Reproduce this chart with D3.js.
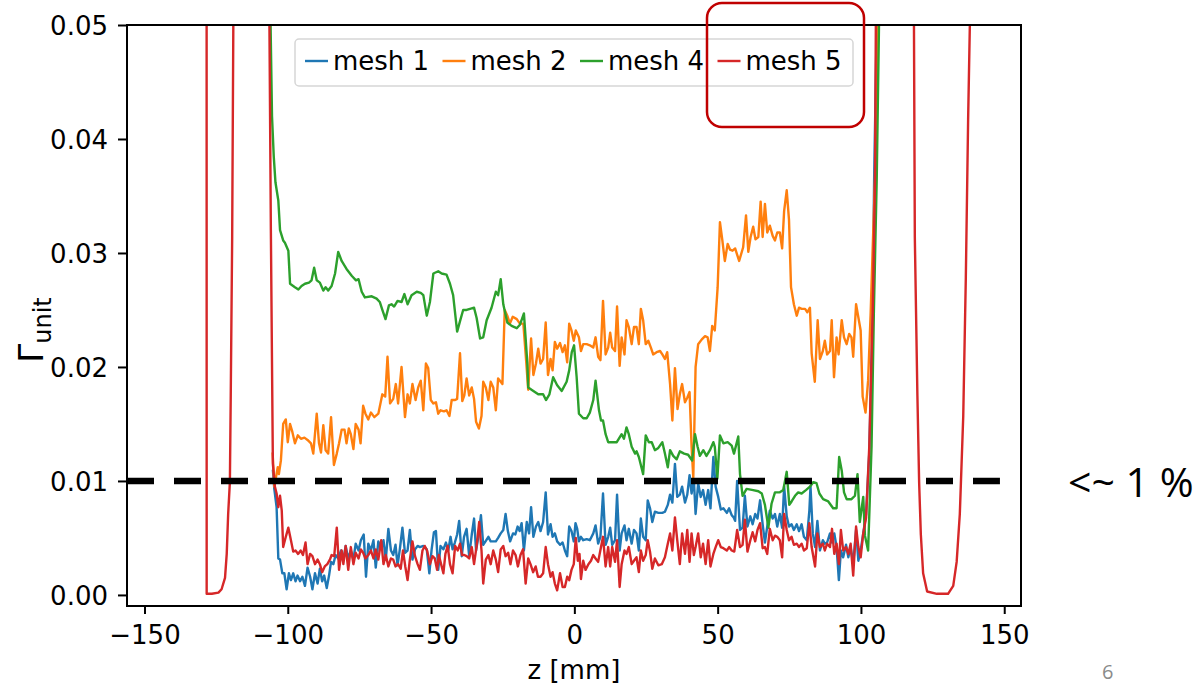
<!DOCTYPE html>
<html>
<head>
<meta charset="utf-8">
<script src="https://cdnjs.cloudflare.com/ajax/libs/d3/7.8.5/d3.min.js"></script>
<style>
  body { margin: 0; background: #fff; }
  svg { display: block; }
</style>
</head>
<body>
<script>
// Γ_unit along the cavity axis, z in mm, one [z, Γ] pair per sample.
const mesh1 = [
  [-105.2, 0.0110], [-104.7, 0.0093], [-103.9, 0.0077], [-103.3, 0.0032], [-102.7, 0.0031], [-101.9, 0.0019],
  [-101.2, 0.0019], [-100.4, 0.0005], [-99.6, 0.0019], [-98.9, 0.0013], [-98.1, 0.0019], [-97.3, 0.0012],
  [-96.6, 0.0017], [-95.7, 0.0012], [-94.9, 0.0016], [-94.0, 0.0008], [-93.1, 0.0024], [-92.2, 0.0016],
  [-91.4, 0.0005], [-90.5, 0.0019], [-89.6, 0.0010], [-88.8, 0.0023], [-88.0, 0.0012], [-87.3, 0.0017],
  [-86.4, 0.0006], [-85.6, 0.0017], [-84.9, 0.0029], [-84.1, 0.0027], [-83.3, 0.0035], [-82.4, 0.0032],
  [-81.4, 0.0039], [-80.6, 0.0031], [-79.8, 0.0043], [-78.9, 0.0032], [-78.0, 0.0039], [-77.1, 0.0031],
  [-76.3, 0.0045], [-75.3, 0.0039], [-74.5, 0.0048], [-73.5, 0.0053], [-72.7, 0.0016], [-71.9, 0.0045],
  [-71.0, 0.0039], [-70.1, 0.0048], [-69.3, 0.0024], [-68.4, 0.0047], [-67.4, 0.0040], [-66.6, 0.0048],
  [-65.8, 0.0031], [-64.9, 0.0058], [-64.0, 0.0039], [-63.2, 0.0035], [-62.4, 0.0044], [-61.7, 0.0026],
  [-60.9, 0.0040], [-60.0, 0.0059], [-59.1, 0.0037], [-58.2, 0.0039], [-57.4, 0.0057], [-56.5, 0.0031],
  [-55.6, 0.0040], [-54.7, 0.0043], [-53.9, 0.0042], [-52.7, 0.0043], [-51.5, 0.0040], [-50.6, 0.0019],
  [-49.8, 0.0040], [-49.0, 0.0055], [-48.3, 0.0056], [-47.5, 0.0022], [-46.7, 0.0043], [-45.7, 0.0040],
  [-44.8, 0.0046], [-44.0, 0.0039], [-43.2, 0.0051], [-42.5, 0.0040], [-41.7, 0.0046], [-40.9, 0.0053],
  [-40.2, 0.0065], [-39.3, 0.0034], [-38.5, 0.0051], [-37.6, 0.0058], [-36.7, 0.0034], [-35.8, 0.0053],
  [-35.0, 0.0067], [-34.3, 0.0039], [-33.5, 0.0051], [-32.6, 0.0070], [-31.8, 0.0044], [-31.0, 0.0047],
  [-30.0, 0.0051], [-29.2, 0.0047], [-28.3, 0.0047], [-27.4, 0.0047], [-26.6, 0.0050], [-25.7, 0.0054],
  [-24.8, 0.0057], [-24.0, 0.0071], [-23.2, 0.0056], [-22.4, 0.0047], [-21.4, 0.0054], [-20.6, 0.0053],
  [-19.8, 0.0060], [-19.1, 0.0056], [-18.4, 0.0063], [-17.6, 0.0039], [-16.6, 0.0064], [-15.8, 0.0054],
  [-15.1, 0.0077], [-14.3, 0.0051], [-13.4, 0.0060], [-12.6, 0.0064], [-11.8, 0.0056], [-10.9, 0.0064],
  [-10.0, 0.0090], [-9.2, 0.0053], [-8.3, 0.0062], [-7.6, 0.0051], [-6.8, 0.0054], [-6.0, 0.0047],
  [-5.0, 0.0044], [-4.1, 0.0046], [-3.3, 0.0039], [-2.5, 0.0034], [-1.8, 0.0060], [-1.0, 0.0056],
  [-0.2, 0.0047], [0.4, 0.0063], [1.0, 0.0058], [1.6, 0.0047], [2.3, 0.0051], [3.1, 0.0048],
  [4.3, 0.0049], [5.4, 0.0048], [6.6, 0.0054], [7.4, 0.0061], [8.3, 0.0045], [9.1, 0.0051],
  [10.0, 0.0089], [10.9, 0.0044], [11.8, 0.0051], [12.5, 0.0059], [13.2, 0.0044], [14.2, 0.0048],
  [14.9, 0.0088], [15.8, 0.0039], [16.5, 0.0054], [17.5, 0.0061], [18.2, 0.0048], [19.0, 0.0058],
  [20.0, 0.0045], [20.8, 0.0057], [21.7, 0.0054], [22.5, 0.0039], [23.2, 0.0067], [24.0, 0.0051],
  [24.9, 0.0048], [25.6, 0.0083], [26.4, 0.0076], [27.2, 0.0064], [28.1, 0.0073], [29.3, 0.0072],
  [30.7, 0.0072], [31.6, 0.0073], [32.6, 0.0079], [33.4, 0.0088], [34.2, 0.0081], [35.1, 0.0115],
  [35.9, 0.0086], [36.8, 0.0088], [37.6, 0.0095], [38.6, 0.0081], [39.4, 0.0088], [40.2, 0.0105],
  [40.9, 0.0089], [41.7, 0.0101], [42.3, 0.0071], [43.2, 0.0098], [44.1, 0.0086], [44.9, 0.0092],
  [45.8, 0.0079], [46.7, 0.0092], [47.5, 0.0076], [48.5, 0.0121], [49.3, 0.0095], [50.2, 0.0086],
  [51.1, 0.0075], [52.0, 0.0076], [53.2, 0.0072], [54.0, 0.0076], [54.9, 0.0070], [55.6, 0.0068],
  [56.1, 0.0065], [56.8, 0.0100], [57.8, 0.0057], [58.7, 0.0059], [59.5, 0.0087], [60.4, 0.0060],
  [61.4, 0.0069], [62.2, 0.0062], [63.1, 0.0071], [63.9, 0.0067], [64.8, 0.0083], [65.7, 0.0062],
  [66.5, 0.0046], [67.3, 0.0060], [68.2, 0.0074], [69.2, 0.0067], [70.0, 0.0071], [70.8, 0.0060],
  [71.7, 0.0071], [72.5, 0.0059], [73.2, 0.0095], [74.1, 0.0069], [74.9, 0.0060], [75.8, 0.0062],
  [76.6, 0.0057], [77.6, 0.0062], [78.4, 0.0056], [79.3, 0.0062], [80.1, 0.0051], [81.1, 0.0048],
  [82.0, 0.0074], [82.4, 0.0095], [83.2, 0.0054], [84.0, 0.0042], [84.8, 0.0065], [85.7, 0.0039],
  [86.7, 0.0048], [87.4, 0.0045], [88.2, 0.0046], [89.2, 0.0054], [89.9, 0.0046], [90.7, 0.0054],
  [91.5, 0.0042], [92.3, 0.0013], [93.0, 0.0039], [93.8, 0.0033], [94.8, 0.0044], [95.6, 0.0033],
  [96.4, 0.0042], [97.3, 0.0027], [98.3, 0.0057], [99.1, 0.0030], [99.9, 0.0039], [100.8, 0.0054],
  [101.8, 0.0071], [102.9, 0.0124], [104.1, 0.0248], [104.6, 0.0364], [105.5, 0.0500], [106.5, 0.0800]
];

const mesh2 = [
  [-105.3, 0.0125], [-104.7, 0.0095], [-103.5, 0.0112], [-103.1, 0.0106], [-102.4, 0.0118], [-101.6, 0.0150],
  [-100.7, 0.0154], [-100.0, 0.0134], [-99.2, 0.0150], [-98.4, 0.0143], [-97.5, 0.0133], [-96.5, 0.0140],
  [-95.4, 0.0137], [-94.2, 0.0138], [-93.1, 0.0136], [-91.9, 0.0133], [-91.1, 0.0124], [-89.9, 0.0159],
  [-89.1, 0.0133], [-88.4, 0.0125], [-87.6, 0.0149], [-86.8, 0.0127], [-85.9, 0.0124], [-84.9, 0.0156],
  [-83.9, 0.0114], [-82.9, 0.0124], [-82.1, 0.0133], [-81.2, 0.0145], [-80.2, 0.0145], [-79.5, 0.0133],
  [-78.7, 0.0146], [-78.0, 0.0141], [-77.1, 0.0128], [-76.3, 0.0150], [-75.3, 0.0145], [-74.6, 0.0133],
  [-73.7, 0.0166], [-72.9, 0.0159], [-71.9, 0.0154], [-71.0, 0.0160], [-69.8, 0.0156], [-68.4, 0.0159],
  [-67.0, 0.0176], [-66.0, 0.0174], [-65.2, 0.0209], [-64.3, 0.0168], [-63.2, 0.0172], [-62.3, 0.0185],
  [-61.5, 0.0168], [-60.3, 0.0200], [-59.1, 0.0156], [-58.2, 0.0176], [-57.4, 0.0168], [-56.5, 0.0185],
  [-55.4, 0.0171], [-54.5, 0.0182], [-53.6, 0.0188], [-52.7, 0.0162], [-51.8, 0.0203], [-51.0, 0.0199],
  [-50.1, 0.0171], [-49.2, 0.0168], [-48.3, 0.0169], [-47.5, 0.0159], [-46.7, 0.0162], [-45.5, 0.0161],
  [-44.6, 0.0162], [-43.6, 0.0157], [-42.8, 0.0171], [-41.6, 0.0171], [-40.9, 0.0172], [-39.9, 0.0212],
  [-39.1, 0.0170], [-38.4, 0.0175], [-37.6, 0.0190], [-36.7, 0.0175], [-35.8, 0.0182], [-35.0, 0.0172],
  [-34.3, 0.0152], [-33.3, 0.0146], [-32.4, 0.0157], [-31.8, 0.0187], [-30.9, 0.0182], [-30.0, 0.0171],
  [-29.2, 0.0187], [-28.3, 0.0182], [-27.4, 0.0162], [-26.6, 0.0190], [-25.7, 0.0187], [-25.1, 0.0185],
  [-24.3, 0.0250], [-23.4, 0.0245], [-22.5, 0.0238], [-21.5, 0.0244], [-20.1, 0.0242], [-19.0, 0.0238],
  [-17.8, 0.0238], [-16.9, 0.0208], [-16.1, 0.0180], [-15.1, 0.0225], [-14.3, 0.0193], [-13.4, 0.0203],
  [-12.6, 0.0216], [-11.8, 0.0203], [-10.9, 0.0207], [-10.0, 0.0239], [-9.2, 0.0193], [-8.3, 0.0207],
  [-7.6, 0.0197], [-6.8, 0.0222], [-6.0, 0.0216], [-5.0, 0.0221], [-4.1, 0.0213], [-3.3, 0.0219],
  [-2.5, 0.0204], [-1.8, 0.0238], [-1.0, 0.0232], [-0.2, 0.0223], [0.5, 0.0232], [1.6, 0.0226],
  [2.3, 0.0214], [3.1, 0.0220], [4.3, 0.0220], [5.4, 0.0219], [6.6, 0.0217], [7.4, 0.0226],
  [8.3, 0.0209], [9.1, 0.0206], [10.0, 0.0258], [10.9, 0.0211], [11.8, 0.0217], [12.5, 0.0230],
  [13.2, 0.0217], [14.2, 0.0214], [14.9, 0.0253], [15.8, 0.0201], [16.5, 0.0226], [17.5, 0.0211],
  [18.2, 0.0241], [19.0, 0.0235], [20.0, 0.0220], [20.8, 0.0235], [21.7, 0.0235], [22.5, 0.0220],
  [23.2, 0.0251], [24.0, 0.0241], [24.9, 0.0220], [25.8, 0.0223], [26.7, 0.0217], [27.5, 0.0211],
  [28.7, 0.0213], [29.9, 0.0214], [30.7, 0.0211], [31.6, 0.0207], [32.4, 0.0213], [33.4, 0.0185],
  [34.2, 0.0153], [35.1, 0.0199], [36.0, 0.0163], [36.8, 0.0176], [37.6, 0.0185], [38.6, 0.0169],
  [39.4, 0.0173], [40.2, 0.0178], [40.9, 0.0130], [41.5, 0.0103], [42.3, 0.0200], [43.2, 0.0220],
  [44.4, 0.0224], [45.6, 0.0227], [46.5, 0.0226], [47.3, 0.0214], [48.1, 0.0236], [49.0, 0.0232],
  [50.0, 0.0270], [50.8, 0.0327], [51.6, 0.0312], [52.5, 0.0293], [53.5, 0.0308], [54.3, 0.0303],
  [55.2, 0.0302], [56.1, 0.0304], [57.5, 0.0293], [58.9, 0.0305], [59.9, 0.0333], [60.7, 0.0301],
  [61.5, 0.0314], [62.4, 0.0323], [63.2, 0.0312], [64.2, 0.0314], [65.0, 0.0345], [65.7, 0.0314],
  [66.5, 0.0343], [67.3, 0.0318], [68.2, 0.0324], [69.2, 0.0315], [70.0, 0.0311], [70.8, 0.0318],
  [71.7, 0.0318], [72.5, 0.0304], [73.2, 0.0337], [74.1, 0.0355], [74.9, 0.0329], [75.6, 0.0270],
  [76.6, 0.0255], [77.6, 0.0245], [78.4, 0.0252], [79.3, 0.0251], [80.5, 0.0251], [81.3, 0.0248],
  [82.2, 0.0252], [82.8, 0.0212], [83.9, 0.0187], [84.9, 0.0241], [85.7, 0.0207], [86.7, 0.0214],
  [87.4, 0.0223], [88.2, 0.0211], [89.2, 0.0214], [89.8, 0.0241], [90.6, 0.0191], [91.5, 0.0226],
  [92.2, 0.0211], [93.3, 0.0241], [94.1, 0.0226], [95.0, 0.0220], [95.9, 0.0229], [96.7, 0.0226],
  [97.3, 0.0209], [98.3, 0.0255], [99.9, 0.0232], [100.6, 0.0174], [101.6, 0.0160], [102.5, 0.0188],
  [103.4, 0.0248], [104.3, 0.0320], [104.9, 0.0364], [105.9, 0.0500], [107.0, 0.0800]
];

const mesh4 = [
  [-106.6, 0.0800], [-106.0, 0.0500], [-105.5, 0.0420], [-104.9, 0.0385], [-104.3, 0.0362], [-103.3, 0.0346],
  [-102.7, 0.0320], [-101.6, 0.0311], [-101.0, 0.0309], [-99.8, 0.0302], [-99.2, 0.0273], [-97.5, 0.0270],
  [-96.3, 0.0268], [-95.2, 0.0271], [-94.0, 0.0273], [-92.6, 0.0274], [-91.7, 0.0276], [-90.8, 0.0287],
  [-89.9, 0.0276], [-88.8, 0.0274], [-87.6, 0.0267], [-86.8, 0.0270], [-85.9, 0.0267], [-84.7, 0.0271],
  [-83.5, 0.0282], [-82.4, 0.0301], [-81.2, 0.0293], [-79.5, 0.0286], [-77.7, 0.0280], [-76.2, 0.0276],
  [-75.3, 0.0277], [-74.2, 0.0266], [-73.1, 0.0261], [-70.7, 0.0262], [-69.0, 0.0260], [-67.9, 0.0257],
  [-67.0, 0.0250], [-65.9, 0.0242], [-64.7, 0.0254], [-63.8, 0.0255], [-62.9, 0.0253], [-61.7, 0.0258],
  [-60.3, 0.0257], [-59.3, 0.0264], [-58.2, 0.0255], [-56.8, 0.0263], [-55.0, 0.0266], [-53.6, 0.0265],
  [-52.7, 0.0263], [-51.5, 0.0245], [-50.4, 0.0257], [-49.2, 0.0282], [-47.5, 0.0284], [-46.3, 0.0282],
  [-44.6, 0.0281], [-43.4, 0.0273], [-42.3, 0.0263], [-40.9, 0.0231], [-39.7, 0.0242], [-38.8, 0.0250],
  [-37.6, 0.0250], [-36.4, 0.0251], [-35.0, 0.0252], [-34.1, 0.0243], [-32.9, 0.0225], [-31.8, 0.0226],
  [-30.6, 0.0241], [-28.9, 0.0252], [-27.4, 0.0266], [-26.6, 0.0263], [-25.7, 0.0277], [-24.8, 0.0255],
  [-23.4, 0.0239], [-21.9, 0.0236], [-20.1, 0.0234], [-19.0, 0.0237], [-17.6, 0.0247], [-16.4, 0.0203],
  [-16.1, 0.0182], [-14.3, 0.0179], [-12.6, 0.0176], [-10.9, 0.0176], [-9.9, 0.0171], [-8.7, 0.0176],
  [-7.4, 0.0191], [-6.0, 0.0184], [-4.4, 0.0179], [-2.7, 0.0187], [-1.8, 0.0197], [-0.9, 0.0213],
  [-0.1, 0.0219], [0.8, 0.0191], [1.6, 0.0159], [3.1, 0.0155], [4.3, 0.0155], [5.4, 0.0160],
  [6.6, 0.0171], [7.4, 0.0188], [8.6, 0.0162], [9.3, 0.0153], [10.0, 0.0153], [10.9, 0.0141],
  [11.8, 0.0134], [13.6, 0.0134], [14.8, 0.0134], [16.5, 0.0141], [17.3, 0.0137], [18.2, 0.0147],
  [19.0, 0.0141], [20.0, 0.0130], [21.2, 0.0124], [21.7, 0.0126], [22.5, 0.0121], [24.0, 0.0106],
  [24.9, 0.0140], [26.0, 0.0134], [27.0, 0.0134], [28.1, 0.0127], [29.3, 0.0129], [30.7, 0.0134],
  [31.6, 0.0124], [32.6, 0.0112], [33.4, 0.0127], [34.5, 0.0122], [35.7, 0.0119], [36.8, 0.0126],
  [38.3, 0.0124], [39.7, 0.0123], [41.1, 0.0118], [42.1, 0.0141], [43.0, 0.0130], [43.8, 0.0122],
  [45.0, 0.0127], [46.1, 0.0122], [47.3, 0.0127], [48.5, 0.0134], [49.0, 0.0130], [49.9, 0.0102],
  [50.8, 0.0140], [52.0, 0.0133], [53.5, 0.0134], [54.9, 0.0131], [55.7, 0.0124], [57.2, 0.0139],
  [57.8, 0.0106], [58.7, 0.0087], [60.1, 0.0093], [62.4, 0.0092], [64.2, 0.0091], [65.4, 0.0089],
  [66.5, 0.0079], [67.7, 0.0059], [68.8, 0.0080], [70.0, 0.0090], [71.7, 0.0090], [72.9, 0.0092],
  [74.1, 0.0108], [75.0, 0.0079], [75.8, 0.0082], [77.0, 0.0087], [78.1, 0.0090], [79.3, 0.0089],
  [80.8, 0.0092], [82.2, 0.0095], [83.4, 0.0099], [84.5, 0.0098], [85.5, 0.0089], [86.8, 0.0084],
  [88.6, 0.0082], [90.3, 0.0076], [91.5, 0.0076], [92.4, 0.0121], [93.3, 0.0109], [94.1, 0.0090],
  [95.0, 0.0084], [96.7, 0.0084], [97.9, 0.0087], [98.8, 0.0106], [99.6, 0.0064], [100.8, 0.0086],
  [101.4, 0.0052], [102.5, 0.0039], [103.7, 0.0130], [104.5, 0.0247], [105.5, 0.0364], [106.3, 0.0500],
  [107.2, 0.0800]
];

const mesh5 = [
  [-128.6, 0.9000], [-128.3, 0.0001], [-126.5, 0.0001], [-124.2, 0.0002], [-123.1, 0.0005], [-121.9, 0.0015],
  [-121.3, 0.0036], [-120.8, 0.0071], [-120.2, 0.0099], [-119.9, 0.0175], [-119.4, 0.0314], [-119.0, 0.0500],
  [-118.5, 0.0900], [-112.5, 0.5000], [-106.9, 0.0900], [-106.4, 0.0500], [-105.9, 0.0320], [-105.2, 0.0115],
  [-104.5, 0.0095], [-103.9, 0.0089], [-103.3, 0.0077], [-102.7, 0.0087], [-102.1, 0.0074], [-101.6, 0.0042],
  [-100.8, 0.0050], [-99.8, 0.0059], [-98.9, 0.0048], [-98.1, 0.0038], [-97.3, 0.0039], [-96.4, 0.0036],
  [-95.5, 0.0039], [-94.7, 0.0035], [-93.8, 0.0046], [-93.1, 0.0027], [-92.2, 0.0036], [-91.4, 0.0034],
  [-90.5, 0.0027], [-89.6, 0.0031], [-88.8, 0.0027], [-88.0, 0.0020], [-87.1, 0.0025], [-86.2, 0.0027],
  [-85.3, 0.0031], [-84.7, 0.0035], [-83.8, 0.0034], [-82.9, 0.0059], [-82.1, 0.0022], [-81.2, 0.0039],
  [-80.6, 0.0027], [-79.8, 0.0043], [-78.9, 0.0022], [-78.0, 0.0042], [-77.1, 0.0027], [-76.3, 0.0037],
  [-75.3, 0.0032], [-74.5, 0.0040], [-73.7, 0.0037], [-72.9, 0.0032], [-71.9, 0.0035], [-71.0, 0.0039],
  [-70.1, 0.0032], [-69.3, 0.0040], [-68.4, 0.0031], [-67.4, 0.0048], [-66.6, 0.0027], [-65.8, 0.0035],
  [-64.9, 0.0025], [-64.0, 0.0032], [-63.2, 0.0031], [-62.4, 0.0025], [-61.5, 0.0027], [-60.6, 0.0023],
  [-59.8, 0.0039], [-59.0, 0.0025], [-58.2, 0.0013], [-57.4, 0.0031], [-56.5, 0.0047], [-55.6, 0.0034],
  [-54.7, 0.0027], [-53.9, 0.0022], [-53.0, 0.0039], [-52.2, 0.0043], [-51.4, 0.0039], [-50.4, 0.0027],
  [-49.5, 0.0034], [-48.7, 0.0032], [-47.9, 0.0022], [-47.3, 0.0035], [-46.5, 0.0027], [-45.7, 0.0019],
  [-45.0, 0.0036], [-44.2, 0.0043], [-43.4, 0.0027], [-42.5, 0.0019], [-41.6, 0.0043], [-40.7, 0.0039],
  [-39.9, 0.0045], [-39.2, 0.0035], [-38.4, 0.0035], [-37.6, 0.0034], [-36.7, 0.0032], [-35.8, 0.0042],
  [-35.0, 0.0027], [-34.1, 0.0043], [-33.2, 0.0064], [-32.4, 0.0039], [-31.8, 0.0010], [-30.9, 0.0031],
  [-30.0, 0.0035], [-29.2, 0.0027], [-28.3, 0.0039], [-27.4, 0.0031], [-26.6, 0.0020], [-25.7, 0.0040],
  [-24.8, 0.0043], [-24.0, 0.0034], [-23.1, 0.0037], [-22.3, 0.0027], [-21.4, 0.0039], [-20.5, 0.0035],
  [-19.7, 0.0025], [-18.8, 0.0035], [-17.9, 0.0040], [-17.0, 0.0010], [-16.1, 0.0032], [-15.3, 0.0027],
  [-14.4, 0.0020], [-13.5, 0.0025], [-12.7, 0.0016], [-11.8, 0.0016], [-10.9, 0.0019], [-10.0, 0.0042],
  [-9.2, 0.0027], [-8.3, 0.0016], [-7.6, 0.0020], [-6.8, 0.0010], [-6.0, 0.0004], [-5.0, 0.0019],
  [-4.1, 0.0007], [-3.3, 0.0007], [-2.5, 0.0016], [-1.8, 0.0013], [-1.0, 0.0022], [-0.2, 0.0027],
  [0.5, 0.0050], [1.2, 0.0030], [1.8, 0.0036], [2.3, 0.0014], [3.1, 0.0030], [3.9, 0.0022],
  [4.9, 0.0027], [5.8, 0.0030], [6.6, 0.0035], [7.4, 0.0032], [8.3, 0.0029], [9.3, 0.0042],
  [10.0, 0.0051], [10.9, 0.0025], [11.8, 0.0042], [12.5, 0.0025], [13.2, 0.0042], [14.2, 0.0029],
  [14.9, 0.0048], [15.8, 0.0007], [16.5, 0.0027], [17.5, 0.0039], [18.2, 0.0036], [19.0, 0.0042],
  [20.0, 0.0027], [20.8, 0.0030], [21.7, 0.0033], [22.5, 0.0020], [23.2, 0.0039], [24.0, 0.0030],
  [24.9, 0.0035], [25.6, 0.0048], [26.4, 0.0038], [27.2, 0.0023], [28.1, 0.0032], [29.3, 0.0026],
  [30.5, 0.0027], [31.6, 0.0033], [32.6, 0.0045], [33.4, 0.0054], [34.2, 0.0039], [35.1, 0.0068],
  [35.9, 0.0048], [36.8, 0.0027], [37.6, 0.0054], [38.6, 0.0036], [39.4, 0.0057], [40.2, 0.0029],
  [40.9, 0.0054], [41.7, 0.0035], [42.3, 0.0042], [43.2, 0.0054], [44.1, 0.0033], [44.9, 0.0045],
  [45.8, 0.0027], [46.7, 0.0048], [47.5, 0.0025], [48.5, 0.0036], [49.3, 0.0042], [50.2, 0.0048],
  [51.1, 0.0042], [52.0, 0.0041], [53.2, 0.0039], [54.0, 0.0042], [54.9, 0.0039], [55.8, 0.0038],
  [56.8, 0.0057], [57.8, 0.0042], [58.7, 0.0044], [59.5, 0.0066], [60.4, 0.0038], [61.4, 0.0048],
  [62.2, 0.0055], [63.1, 0.0047], [63.9, 0.0057], [64.8, 0.0063], [65.7, 0.0041], [66.5, 0.0042],
  [67.3, 0.0036], [68.2, 0.0058], [69.2, 0.0048], [70.0, 0.0052], [70.8, 0.0051], [71.7, 0.0048],
  [72.5, 0.0033], [73.2, 0.0071], [74.1, 0.0057], [74.9, 0.0048], [75.8, 0.0051], [76.6, 0.0044],
  [77.6, 0.0045], [78.4, 0.0042], [79.3, 0.0045], [80.1, 0.0039], [81.1, 0.0041], [82.0, 0.0063],
  [82.8, 0.0042], [84.0, 0.0025], [84.8, 0.0054], [85.7, 0.0042], [86.7, 0.0045], [87.4, 0.0039],
  [88.2, 0.0045], [89.2, 0.0042], [89.9, 0.0058], [90.7, 0.0036], [91.5, 0.0045], [92.3, 0.0027],
  [93.0, 0.0057], [93.8, 0.0039], [94.8, 0.0042], [95.6, 0.0036], [96.4, 0.0045], [97.3, 0.0017],
  [98.3, 0.0060], [99.1, 0.0042], [99.9, 0.0033], [100.8, 0.0054], [101.8, 0.0068], [102.9, 0.0130],
  [104.1, 0.0248], [104.9, 0.0364], [105.2, 0.0500], [105.8, 0.0900], [112.0, 0.5000], [117.9, 0.0900],
  [118.5, 0.0500], [118.8, 0.0314], [119.7, 0.0175], [120.3, 0.0099], [120.9, 0.0053], [121.7, 0.0019],
  [123.1, 0.0003], [126.5, 0.0001], [130.4, 0.0001], [132.2, 0.0008], [133.4, 0.0029], [134.5, 0.0071],
  [135.7, 0.0157], [136.6, 0.0279], [137.4, 0.0417], [138.0, 0.0500], [138.6, 0.0900]
];

const seriesNames = ["mesh 1", "mesh 2", "mesh 4", "mesh 5"];
const seriesData = [mesh1, mesh2, mesh4, mesh5];
const seriesColors = ["#1f77b4", "#ff7f0e", "#2ca02c", "#d62728"];

const xTicks = [-150, -100, -50, 0, 50, 100, 150];
const yTicks = [0.00, 0.01, 0.02, 0.03, 0.04, 0.05];
const xDomain = [-156.1, 155.85];
const yDomain = [-0.00097, 0.05];

// 1 % target level and the stretch of z it is marked over
const threshold = 0.01;
const thresholdSpan = [-156.1, 148.5];

const xLabel = "z [mm]";
const thresholdNote = "<~ 1 %";
const pageNumber = "6";

// ---- layout ----
const W = 1204, H = 687;
const plot = { left: 127, right: 1021, top: 25, bottom: 606 };
const tickFont = "'DejaVu Sans', sans-serif";

const svg = d3.select("body").append("svg")
  .attr("width", W).attr("height", H)
  .attr("viewBox", `0 0 ${W} ${H}`);

svg.append("rect").attr("width", W).attr("height", H).attr("fill", "#fff");

const x = d3.scaleLinear().domain(xDomain).range([plot.left, plot.right]);
const y = d3.scaleLinear().domain(yDomain).range([plot.bottom, plot.top]);

svg.append("defs").append("clipPath").attr("id", "plot-clip")
  .append("rect")
  .attr("x", plot.left).attr("y", plot.top)
  .attr("width", plot.right - plot.left).attr("height", plot.bottom - plot.top);

// ---- curves ----
const line = d3.line().x(d => x(d[0])).y(d => y(d[1]));

svg.append("g").attr("clip-path", "url(#plot-clip)")
  .selectAll("path")
  .data(seriesData)
  .join("path")
  .attr("d", line)
  .attr("fill", "none")
  .attr("stroke", (d, i) => seriesColors[i])
  .attr("stroke-width", 2.4)
  .attr("stroke-linejoin", "round")
  .attr("stroke-linecap", "butt");

// ---- 1 % threshold ----
svg.append("line")
  .attr("x1", x(thresholdSpan[0])).attr("x2", x(thresholdSpan[1]))
  .attr("y1", y(threshold)).attr("y2", y(threshold))
  .attr("stroke", "#000")
  .attr("stroke-width", 6.5)
  .attr("stroke-dasharray", "27 20");

// ---- axes ----
const xAxis = d3.axisBottom(x).tickValues(xTicks).tickSizeInner(8).tickSizeOuter(0).tickPadding(12)
  .tickFormat(d3.format("d"));
const yAxis = d3.axisLeft(y).tickValues(yTicks).tickSizeInner(9).tickSizeOuter(0).tickPadding(10)
  .tickFormat(d3.format(".2f"));

const gx = svg.append("g").attr("transform", `translate(0,${plot.bottom})`).call(xAxis);
const gy = svg.append("g").attr("transform", `translate(${plot.left},0)`).call(yAxis);

[gx, gy].forEach(g => {
  g.select(".domain").remove();
  g.selectAll(".tick line").attr("stroke", "#000").attr("stroke-width", 2);
  g.selectAll(".tick text")
    .attr("fill", "#000")
    .style("font-family", tickFont)
    .style("font-size", "26px");
});
gy.selectAll(".tick text").attr("dy", "0.36em");

// frame
svg.append("rect")
  .attr("x", plot.left).attr("y", plot.top)
  .attr("width", plot.right - plot.left).attr("height", plot.bottom - plot.top)
  .attr("fill", "none").attr("stroke", "#000").attr("stroke-width", 2);

// axis titles
svg.append("text")
  .attr("x", (plot.left + plot.right) / 2).attr("y", 679)
  .attr("text-anchor", "middle")
  .style("font-family", tickFont).style("font-size", "26px")
  .attr("fill", "#000")
  .text(xLabel);

const yTitle = svg.append("text")
  .attr("transform", "translate(43,330) rotate(-90)")
  .attr("text-anchor", "middle")
  .style("font-family", tickFont)
  .attr("fill", "#000");
yTitle.append("tspan").style("font-size", "34px").text("Γ");
yTitle.append("tspan").style("font-size", "24px").attr("dy", 8).text("unit");

// ---- legend ----
const legend = svg.append("g");
legend.append("rect")
  .attr("x", 295).attr("y", 39).attr("width", 558).attr("height", 47)
  .attr("rx", 4)
  .attr("fill", "#fff").attr("fill-opacity", 0.85)
  .attr("stroke", "#d6d6d6").attr("stroke-width", 1.5);

const entry = legend.selectAll("g.entry")
  .data(seriesNames)
  .join("g")
  .attr("class", "entry")
  .attr("transform", (d, i) => `translate(${305 + i * 137.5},0)`);
entry.append("line")
  .attr("x1", 0).attr("x2", 23).attr("y1", 61).attr("y2", 61)
  .attr("stroke", (d, i) => seriesColors[i]).attr("stroke-width", 2.4);
entry.append("text")
  .attr("x", 28).attr("y", 70)
  .style("font-family", tickFont).style("font-size", "26px")
  .attr("fill", "#000")
  .text(d => d);

// ---- slide annotations ----
svg.append("rect")
  .attr("x", 707).attr("y", 3).attr("width", 157).attr("height", 124)
  .attr("rx", 15).attr("ry", 15)
  .attr("fill", "none").attr("stroke", "#c00000").attr("stroke-width", 2.5);

svg.append("text")
  .attr("x", 1068).attr("y", 497)
  .style("font-family", "'Open Sans', 'Noto Sans', sans-serif").style("font-size", "41px")
  .attr("fill", "#000")
  .text(thresholdNote);

svg.append("text")
  .attr("x", 1102).attr("y", 679)
  .style("font-family", "'Open Sans', 'Noto Sans', sans-serif").style("font-size", "20px")
  .attr("fill", "#8a8a8a")
  .text(pageNumber);
</script>
</body>
</html>
